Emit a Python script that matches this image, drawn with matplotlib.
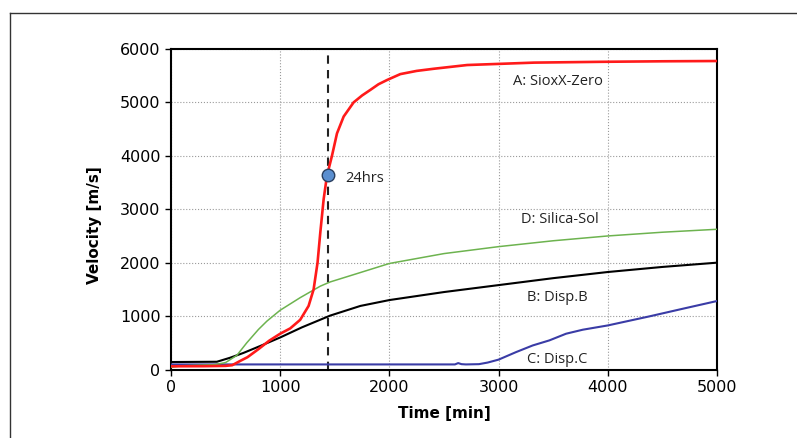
import numpy as np
import matplotlib
matplotlib.use('Agg')
import matplotlib.pyplot as plt
from matplotlib.lines import Line2D

# ---------------------------------------------------------------- data
t_red = [0, 300, 500, 560, 633, 700, 800, 900, 1000, 1092, 1183, 1260, 1306, 1342, 1367,
         1398, 1428, 1474, 1520, 1581, 1672, 1750, 1826, 1900, 1979, 2100, 2250, 2406,
         2712, 3324, 3936, 4500, 5000]
v_red = [60, 62, 68, 80, 160, 230, 380, 540, 670, 770, 930, 1190, 1500, 2000, 2560,
         3190, 3625, 4000, 4420, 4735, 5000, 5130, 5235, 5340, 5420, 5530, 5590, 5630,
         5700, 5745, 5760, 5770, 5775]

t_blk = [0, 420, 541, 663, 817, 1000, 1200, 1459, 1734, 2000, 2500, 3000, 3500, 4000, 4500, 5000]
v_blk = [140, 145, 220, 310, 440, 600, 790, 1010, 1190, 1300, 1450, 1580, 1710, 1825, 1920, 2000]

t_grn = [0, 100, 400, 500, 603, 694, 801, 878, 1000, 1183, 1367, 1459, 1734, 2000, 2500,
         3000, 3500, 4000, 4500, 5000]
v_grn = [40, 70, 90, 130, 265, 500, 750, 905, 1110, 1345, 1560, 1640, 1815, 1985, 2170,
         2300, 2410, 2500, 2570, 2625]

t_blu = [0, 2600, 2630, 2660, 2700, 2820, 2900, 3000, 3159, 3312, 3465, 3618, 3771, 4000,
         4382, 4688, 5000]
v_blu = [95, 95, 120, 100, 95, 100, 130, 185, 325, 450, 545, 670, 745, 825,
         995, 1138, 1282]

t_24h = 1440
v_24h = 3650

labels = ['A: SioxX-Zero', 'D: Silica-Sol', 'B: Disp.B', 'C: Disp.C']
label_x = [3135, 3202, 3263, 3263]
label_y = [5390, 2800, 1340, 187]

# ---------------------------------------------------------------- plot
plt.rcParams['font.family'] = 'DejaVu Sans'
fig = plt.figure(figsize=(7.97, 4.38), dpi=100)
ax = fig.add_axes([171/797, 1-369.5/438, 546/797, 320.5/438])

ax.plot(t_blu, v_blu, color='#3a3ca6', lw=1.5, zorder=3)
ax.plot(t_blk, v_blk, color='black', lw=1.5, zorder=3)
ax.plot(t_grn, v_grn, color='#6db34f', lw=1.1, zorder=3)
ax.plot(t_red, v_red, color='#ff1a1a', lw=1.9, zorder=4)

ax.axvline(t_24h, color='#222222', lw=1.5, ls=(0, (4, 3)), zorder=2)
ax.plot([t_24h], [v_24h], 'o', ms=9, mfc='#5b8fd0', mec='#2a3f5f', mew=1, zorder=5)
ax.text(1596, 3570, '24hrs', family='Open Sans', fontsize=10.5, color='#222222', va='center')

for s, x, y in zip(labels, label_x, label_y):
    ax.text(x, y, s, family='Open Sans', fontsize=10.5, color='#222222', va='center')

ax.set_xlim(0, 5000)
ax.set_ylim(0, 6000)
ax.set_xticks(np.arange(0, 5001, 1000))
ax.set_yticks(np.arange(0, 6001, 1000))
ax.grid(True, color='#9a9a9a', ls=':', lw=0.8, zorder=0)
ax.set_axisbelow(True)
ax.tick_params(labelsize=11.5, length=4, width=1, direction='out', colors='black')
for sp in ax.spines.values():
    sp.set_linewidth(1.5)
    sp.set_color('black')

ax.set_xlabel('Time [min]', fontsize=11, fontweight='bold', labelpad=8)
ax.set_ylabel('Velocity [m/s]', fontsize=11, fontweight='bold')
ax.yaxis.set_label_coords(-0.126, 0.45)

# outer frame of the figure
fig.add_artist(Line2D([10/797, 10/797], [0, 1-12.5/438], color='#333333', lw=1))
fig.add_artist(Line2D([10/797, 1], [1-12.5/438, 1-12.5/438], color='#333333', lw=1))

fig.savefig('out.png', dpi=100)
